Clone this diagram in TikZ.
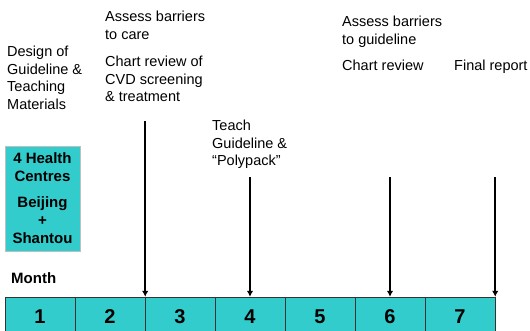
\documentclass[tikz,border=0pt]{standalone}
\usepackage{fontspec}
\setmainfont{Liberation Sans}
\usetikzlibrary{positioning}
\usetikzlibrary{arrows.meta}
\definecolor{cellteal}{RGB}{51,204,204}

\begin{document}
\begin{tikzpicture}[x=1pt,y=-1pt,
	txt/.style={anchor=north west,inner sep=0pt,align=left,font=\fontsize{14.5}{17.5}\selectfont},
	monthcell/.style={draw=black!80,fill=cellteal,minimum width=70pt,minimum height=40pt,inner sep=0pt,font=\fontsize{20}{20}\selectfont\bfseries},
	arr/.style={line width=1.6pt,-{Latex[length=6pt,width=6.5pt]}}]
				\useasboundingbox (0,0) rectangle (530,330);
				\foreach \i in {1,...,7} \node[monthcell] (m\i) at ({70*\i-30},317) {\i};
				\node[anchor=west,inner sep=0pt,font=\fontsize{15}{15}\selectfont\bfseries] (month) at (11,278) {Month};
				\node[draw=black!25,fill=cellteal,minimum width=75pt,minimum height=105pt,align=center,font=\fontsize{15}{18}\selectfont\bfseries] (hc) at (42.5,198.5) {4 Health\\Centres\\[8pt]Beijing\\+\\Shantou};
				\node[txt] (design) at (7,46) {Design of\\Guideline \&\\Teaching\\Materials};
				\node[txt] (care) at (105,11) {Assess barriers\\to care}; \node[txt] (review) at (105,56) {Chart review of\\CVD screening\\\& treatment};
				\node[txt] (teach) at (212,120) {Teach\\Guideline \&\\“Polypack”};
				\node[txt] (guide) at (342,16) {Assess barriers\\to guideline}; \node[txt] (chart) at (342,60) {Chart review};
				\node[txt] (report) at (454,60) {Final report};
				\coordinate (t3) at (m2.north east |- 0,121); \coordinate (t4) at (m4.north |- 0,177); \coordinate (t6) at (m6.north |- 0,177); \coordinate (t7) at (m7.north east |- 0,177);
				\draw[arr] (t3) -- (m2.north east); \draw[arr] (t4) -- (m4.north); \draw[arr] (t6) -- (m6.north); \draw[arr] (t7) -- (m7.north east);
			\end{tikzpicture}
\end{document}
